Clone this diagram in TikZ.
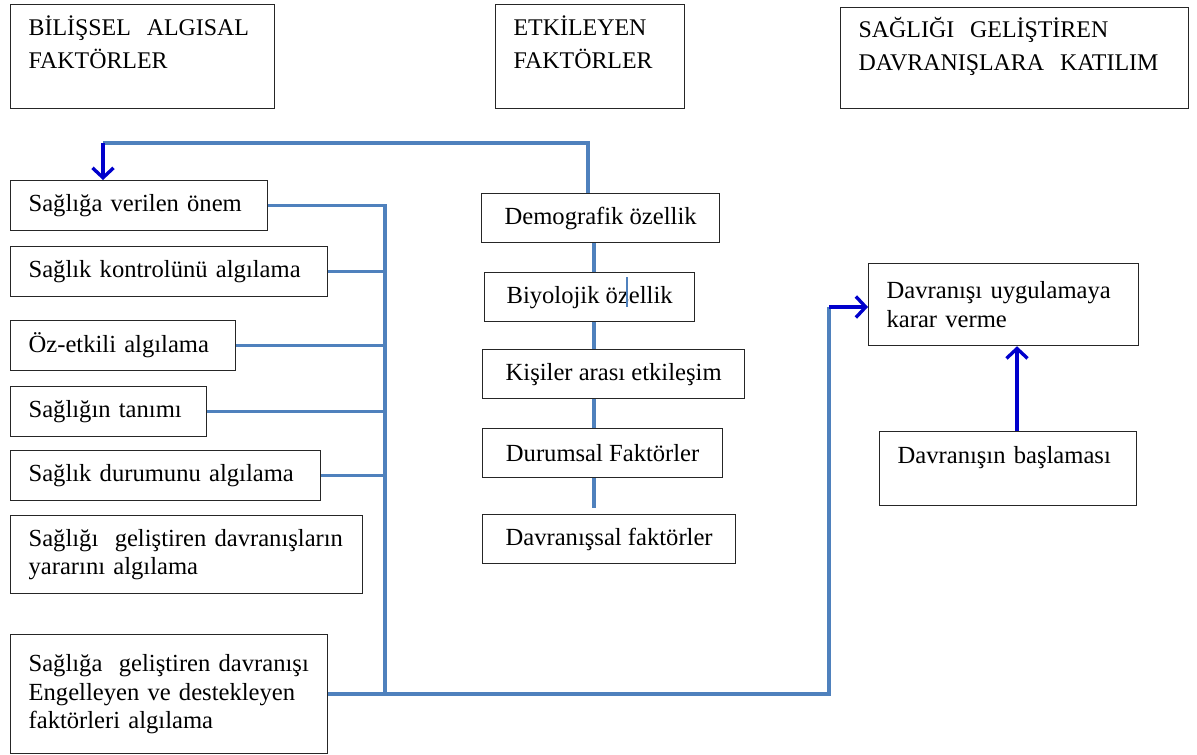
\documentclass[tikz,border=0pt]{standalone}
\usepackage{fontspec}
\setmainfont{Liberation Serif}
\usetikzlibrary{arrows.meta, positioning}
\usepackage{xcolor}
\definecolor{busblue}{HTML}{4F81BD}
\definecolor{arrowblue}{HTML}{0000CC}
\def\px{0.025cm}

\begin{document}
\begin{tikzpicture}[x=\px, y=-\px, font=\fontsize{17.5}{20.5}\selectfont]
    \tikzstyle{box}=[draw=black!85, line width=0.9pt, anchor=north west, inner ysep=0pt, inner xsep=0.45cm, align=left]
    \tikzstyle{title box}=[box, font=\fontsize{17}{23.4}\selectfont]
    \tikzstyle{mid box}=[box, align=center, inner xsep=0pt]
    \tikzstyle{bus}=[draw=busblue, line width=2.6pt]
    \tikzstyle{arr}=[draw=arrowblue, line width=2.4pt, -{Straight Barb[length=7pt,width=15pt]}]
    \tikzset{boxsize/.style 2 args={minimum width=#1*\px, text width=#1*\px-0.9cm, minimum height=#2*\px},
             top text/.style 2 args={text height=#1*\px, text depth=#2*\px}}

    \useasboundingbox (0,0) rectangle (1197,755);

    % Draw the three title boxes
    \node[title box, boxsize={264}{104}, top text={31}{73}] (T-1) at (10,4) {BİLİŞSEL~ ALGISAL\\FAKTÖRLER};
    \node[title box, boxsize={189}{104}, top text={31}{73}] (T-2) at (495,4) {ETKİLEYEN\\FAKTÖRLER};
    \node[title box, boxsize={348}{101}, top text={30}{71}] (T-3) at (840,7) {SAĞLIĞI~ GELİŞTİREN\\DAVRANIŞLARA~ KATILIM};

    % Draw the cognitive-perceptual factors
    \foreach \name / \y / \w / \txt in {1/180/257/{Sağlığa verilen önem},
                                        2/246/317/{Sağlık kontrolünü algılama},
                                        3/320/225/{Öz-etkili algılama},
                                        4/386/196/{Sağlığın tanımı},
                                        5/450/310/{Sağlık durumunu algılama}}
        \node[box, boxsize={\w}{50}] (F-\name) at (10,\y) {\txt};
    \node[box, boxsize={352}{78}] (F-6) at (10,515) {Sağlığı~ geliştiren davranışların\\yararını algılama};
    \node[box, boxsize={317}{119}] (F-7) at (10,634) {Sağlığa~ geliştiren davranışı\\Engelleyen ve destekleyen\\faktörleri algılama};

    % Draw the modifying factors
    \foreach \name / \x / \y / \w / \txt in {1/481/193/238/{Demografik özellik},
                                             2/484/272/210/{Biyolojik özellik},
                                             3/482/349/262/{Kişiler arası etkileşim},
                                             4/482/428/240/{Durumsal Faktörler},
                                             5/482/514/253/{Davranışsal faktörler}}
        \node[mid box, minimum width=\w*\px, minimum height=49*\px] (E-\name) at (\x,\y) {\txt};

    % Draw the participation boxes
    \node[box, boxsize={270}{82}] (K-1) at (868,263) {Davranışı uygulamaya\\karar verme};
    \node[box, boxsize={257}{74}, top text={32}{42}] (K-2) at (879,431) {Davranışın başlaması};

    % Connect every factor on the left to the bus
    \coordinate (bus) at (385,0);
    \draw[bus] (F-1.east) -| (bus |- F-7.east);
    \foreach \n in {2,...,5}
        \draw[bus] (F-\n.east) -- (bus |- F-\n.east);
    \coordinate (up) at (829,307);
    \draw[bus] (F-7.east) -| (up);
    \draw[arr] (up) -- (up -| K-1.west);

    % Feedback from the modifying factors
    \coordinate (top) at (588,143);
    \coordinate (back) at (103,143);
    \draw[bus] (E-1.north -| top) -- (top) -- (back);
    \draw[arr] (back) -- (back |- F-1.north);

    % Chain the modifying factors
    \coordinate (chain) at (594,0);
    \foreach \a / \b in {1/2,2/3,3/4}
        \draw[bus] (E-\a.south -| chain) -- (E-\b.north -| chain);
    \draw[bus, shorten >=4pt] (E-4.south -| chain) -- (E-5.north -| chain);
    \draw[busblue, line width=1pt] (627,277) -- (627,307);

    % Start of the behaviour
    \coordinate (start) at (1017,0);
    \draw[arr] (K-2.north -| start) -- (K-1.south -| start);
\end{tikzpicture}
\end{document}
